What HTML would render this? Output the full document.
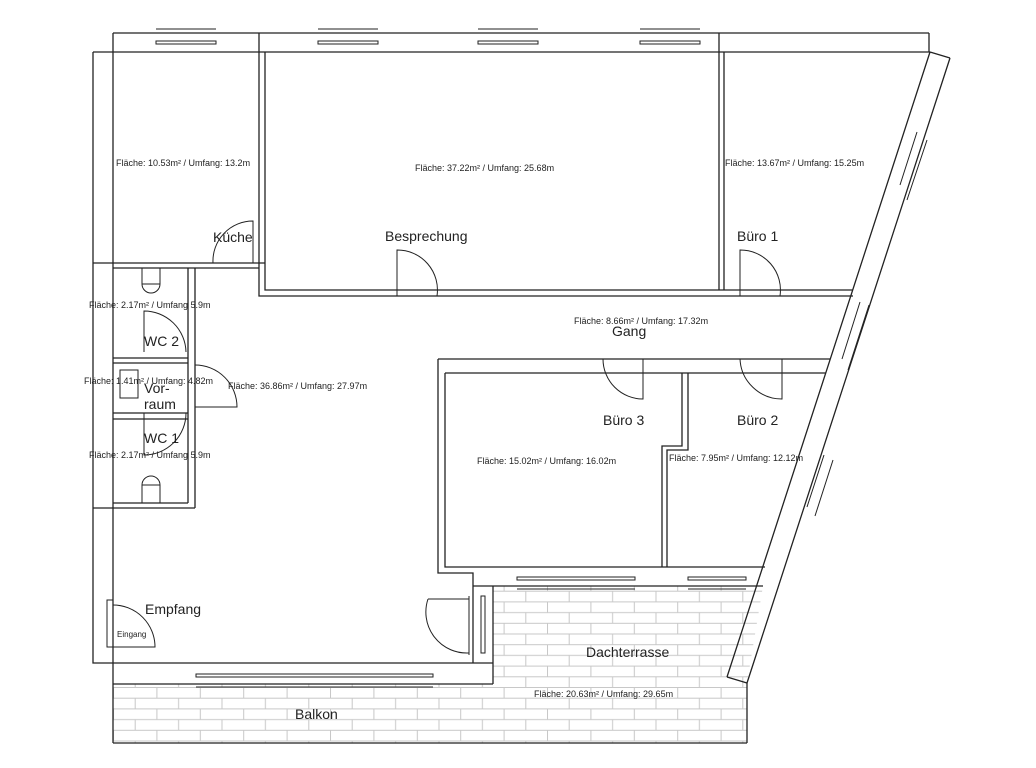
<!DOCTYPE html>
<html><head><meta charset="utf-8"><style>
html,body{margin:0;padding:0;background:#fff;}
svg{display:block;}
text{font-family:"Liberation Sans",sans-serif;fill:#222;}
.s{font-size:9px;}
.n{font-size:14px;}
</style></head><body>
<svg width="1036" height="768" viewBox="0 0 1036 768" xmlns="http://www.w3.org/2000/svg">
<defs>
<pattern id="br" x="113" y="687" width="43.4" height="21.4" patternUnits="userSpaceOnUse">
<rect width="43.4" height="21.4" fill="#fff"/>
<path d="M0 0.5H43.4 M0 11.2H43.4 M0.5 0V11.2 M22.2 11.2V21.4" stroke="#c8c8c8" stroke-width="1" fill="none"/>
</pattern>
</defs>
<g fill="url(#br)" stroke="none">
<rect x="113" y="684" width="380" height="59"/>
<polygon points="493,586 763,586 747,683 747,743 493,743"/>
</g>
<g stroke="#222" stroke-width="1.3" fill="none">
<path d="M113 33H929 M93 52H930 M113 33V743 M259 33V52 M719 33V52 M929 33V52"/>
<path d="M93 52V663H473"/>
<path d="M93 263H265 M113 268H259 M259 52V296H853 M265 52V290H853"/>
<path d="M719 52V290 M724 52V290"/>
<path d="M438 359H830 M445 373H826 M438 359V573H473V663 M445 373V567H473"/>
<path d="M682 373V446H662V567 M688 373V450H667V567"/>
<path d="M473 567H765 M473 586H763 M493 586V684 M473 663H493"/>
<path d="M113 684H493 M113 743H747 M747 683V743"/>
<path d="M188 268V503 M195 268V508 M93 508H195 M113 503H188"/>
<path d="M113 358H188 M113 363H188 M113 413H188 M113 419H188"/>
<path d="M930 52L727 677 M950 58L747 683 M930 52L950 58 M727 677L747 683"/>
<g stroke-width="1"><path d="M156 29H216 M318 29H378 M478 29H538 M640 29H700"/>
<rect x="156" y="41" width="60" height="3"/><rect x="318" y="41" width="60" height="3"/><rect x="478" y="41" width="60" height="3"/><rect x="640" y="41" width="60" height="3"/>
<rect x="196" y="674" width="237" height="3"/><path d="M196 687H433"/>
<rect x="517" y="577" width="118" height="3"/><path d="M517 589H635"/>
<rect x="688" y="577" width="58" height="3"/><path d="M688 589H746"/>
<path d="M917 132L900 185 M927 140L907 200 M860 302L842 359 M869 305L848 370 M824 455L807 507 M833 460L815 516"/>
<rect x="481" y="596" width="4" height="57"/><path d="M469 596V655"/>
<rect x="107" y="600" width="6" height="47"/>
</g>
<g stroke-width="1">
<path d="M253 263V221A40 40 0 0 0 213 263"/>
<path d="M397 296V250A40 40 0 0 1 437 296"/>
<path d="M740 296V250A40 40 0 0 1 780 296"/>
<path d="M643 359V399A40 40 0 0 1 603 359"/>
<path d="M782 359V399A42 42 0 0 1 740 359"/>
<path d="M144 352V311A42 42 0 0 1 186 352"/>
<path d="M195 407H237A42 42 0 0 0 195 365"/>
<path d="M144 413V455A42 42 0 0 0 186 413"/>
<path d="M113 605A42 42 0 0 1 155 647H113"/>
<path d="M428 599H469V653A41 41 0 0 1 428 599"/>
<path d="M142 268V284A7 7 0 0 0 160 284V268 M142 284H160"/>
<path d="M142 503V485A7 7 0 0 1 160 485V503 M142 485H160"/>
<rect x="120" y="370" width="18" height="28"/>
</g>
</g>
<text class="s" x="116" y="166">Fläche:  10.53m² / Umfang: 13.2m</text>
<text class="s" x="415" y="171">Fläche:  37.22m² / Umfang: 25.68m</text>
<text class="s" x="725" y="166">Fläche:  13.67m² / Umfang: 15.25m</text>
<text class="s" x="89" y="308">Fläche:  2.17m² / Umfang  5.9m</text>
<text class="s" x="84" y="384">Fläche:  1.41m² / Umfang: 4.82m</text>
<text class="s" x="228" y="389">Fläche:  36.86m² / Umfang: 27.97m</text>
<text class="s" x="89" y="458">Fläche:  2.17m² / Umfang  5.9m</text>
<text class="s" x="574" y="324">Fläche:  8.66m² / Umfang: 17.32m</text>
<text class="s" x="477" y="464">Fläche:  15.02m² / Umfang: 16.02m</text>
<text class="s" x="669" y="461">Fläche:  7.95m² / Umfang: 12.12m</text>
<text class="s" x="534" y="697">Fläche:  20.63m² / Umfang: 29.65m</text>
<text class="n" x="213" y="242">Küche</text>
<text class="n" x="385" y="241">Besprechung</text>
<text class="n" x="737" y="241">Büro 1</text>
<text class="n" x="144" y="346">WC 2</text>
<text class="n" x="144" y="393">Vor-</text>
<text class="n" x="144" y="409">raum</text>
<text class="n" x="144" y="443">WC 1</text>
<text class="n" x="612" y="336">Gang</text>
<text class="n" x="603" y="425">Büro 3</text>
<text class="n" x="737" y="425">Büro 2</text>
<text class="n" x="145" y="614">Empfang</text>
<text style="font-size:8px" x="117" y="637">Eingang</text>
<text class="n" x="586" y="657">Dachterrasse</text>
<text class="n" x="295" y="719">Balkon</text>
</svg>
</body></html>
